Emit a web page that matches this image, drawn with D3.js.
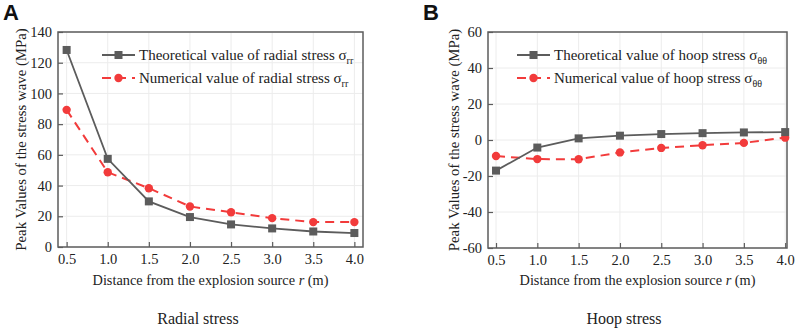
<!DOCTYPE html>
<html>
<head>
<meta charset="utf-8">
<script src="https://cdn.jsdelivr.net/npm/d3@7"></script>
<style>
  body { margin: 0; background: #fff; }
  text { font-family: "Liberation Serif", "Times New Roman", serif; fill: #222; }
  text.letter { font-family: "Liberation Sans", Arial, sans-serif; font-weight: bold; fill: #111; }
</style>
</head>
<body>
<svg id="chart" width="796" height="329"></svg>
<script>
// distances from the explosion source (m)
let distances = [0.5, 1.0, 1.5, 2.0, 2.5, 3.0, 3.5, 4.0];

// panel A - radial stress (MPa)
let radialTheory = [128.3, 57.4, 29.7, 19.5, 14.7, 12.1, 10.1, 9.1];
let radialNumeric = [89.3, 48.7, 38.3, 26.4, 22.6, 18.8, 16.2, 16.2];
let radialTicks = [0, 20, 40, 60, 80, 100, 120, 140];

// panel B - hoop stress (MPa)
let hoopTheory = [-17.0, -4.2, 0.9, 2.4, 3.3, 3.8, 4.2, 4.4];
let hoopNumeric = [-8.9, -10.6, -10.7, -6.9, -4.4, -2.9, -1.6, 1.3];
let hoopTicks = [-60, -40, -20, 0, 20, 40, 60];

let xTicks = [0.5, 1.0, 1.5, 2.0, 2.5, 3.0, 3.5, 4.0];

let grey = "#5c5c5c",
    red = "#f23b3b";

let svg = d3.select("#chart");

function draw_panel(p) {
  let x = d3.scaleLinear().domain(p.xDomain).range([p.left, p.right]),
      y = d3.scaleLinear().domain(p.yDomain).range([p.bottom, p.top]);

  let g = svg.append("g");

  // grid
  g.append("g").selectAll("line.gx")
    .data(xTicks).enter().append("line")
    .attr("x1", d => x(d)).attr("x2", d => x(d))
    .attr("y1", p.top).attr("y2", p.bottom)
    .attr("stroke", "#ececec").attr("stroke-width", 1);
  g.append("g").selectAll("line.gy")
    .data(p.yTicks).enter().append("line")
    .attr("y1", d => y(d)).attr("y2", d => y(d))
    .attr("x1", p.left).attr("x2", p.right)
    .attr("stroke", "#ececec").attr("stroke-width", 1);

  // axes with inward ticks
  let xAxis = d3.axisBottom(x).tickValues(xTicks).tickFormat(d3.format(".1f"))
        .tickSizeInner(-5).tickSizeOuter(0).tickPadding(7),
      yAxis = d3.axisLeft(y).tickValues(p.yTicks).tickFormat(d => d < 0 ? "-" + Math.abs(d) : d)
        .tickSizeInner(-5).tickSizeOuter(0).tickPadding(6);

  let ax = g.append("g").attr("transform", `translate(0,${p.bottom})`).call(xAxis);
  let ay = g.append("g").attr("transform", `translate(${p.left},0)`).call(yAxis);
  [ax, ay].forEach(a => {
    a.attr("font-family", null).attr("font-size", null);
    a.select(".domain").remove();
    a.selectAll("line").attr("stroke", grey).attr("stroke-width", 1.2);
    a.selectAll("text").style("font-size", "14.5px").attr("fill", "#222");
  });

  // frame
  g.append("rect")
    .attr("x", p.left).attr("y", p.top)
    .attr("width", p.right - p.left).attr("height", p.bottom - p.top)
    .attr("fill", "none").attr("stroke", grey).attr("stroke-width", 1.5);

  let line = d3.line().x((d, i) => x(distances[i])).y(d => y(d));

  // numerical (red dashed, circles)
  g.append("path").datum(p.numeric)
    .attr("d", line).attr("fill", "none")
    .attr("stroke", red).attr("stroke-width", 2).attr("stroke-dasharray", "9,6");
  g.selectAll("circle.num").data(p.numeric).enter().append("circle")
    .attr("cx", (d, i) => x(distances[i])).attr("cy", d => y(d))
    .attr("r", 4.2).attr("fill", red);

  // theoretical (grey solid, squares)
  g.append("path").datum(p.theory)
    .attr("d", line).attr("fill", "none")
    .attr("stroke", grey).attr("stroke-width", 1.8);
  g.selectAll("rect.th").data(p.theory).enter().append("rect")
    .attr("x", (d, i) => x(distances[i]) - 4).attr("y", d => y(d) - 4)
    .attr("width", 8).attr("height", 8).attr("fill", grey);

  // legend
  let lx = p.legendX;
  let items = [
    {label: p.theoryLabel, color: grey, dash: null, shape: "square", y: 55},
    {label: p.numericLabel, color: red, dash: "9,6", shape: "circle", y: 78}
  ];
  items.forEach(it => {
    g.append("line")
      .attr("x1", lx).attr("x2", lx + 33).attr("y1", it.y).attr("y2", it.y)
      .attr("stroke", it.color).attr("stroke-width", it.shape == "square" ? 1.8 : 2)
      .attr("stroke-dasharray", it.dash);
    if (it.shape == "square")
      g.append("rect").attr("x", lx + 16.5 - 4).attr("y", it.y - 4)
        .attr("width", 8).attr("height", 8).attr("fill", it.color);
    else
      g.append("circle").attr("cx", lx + 16.5).attr("cy", it.y).attr("r", 4.2).attr("fill", it.color);
    let t = g.append("text").attr("x", lx + 37).attr("y", it.y + 5).style("font-size", "15px");
    t.append("tspan").text(it.label + " \u03c3");
    t.append("tspan").attr("dy", 4).style("font-size", "10px").text(p.sub);
  });

  // axis labels
  let xl = g.append("text")
    .attr("x", (p.left + p.right) / 2).attr("y", 285)
    .attr("text-anchor", "middle").style("font-size", "14.3px");
  xl.append("tspan").text("Distance from the explosion source ");
  xl.append("tspan").style("font-style", "italic").text("r");
  xl.append("tspan").text(" (m)");

  g.append("text")
    .attr("transform", `translate(${p.yLabelX},${(p.top + p.bottom) / 2}) rotate(-90)`)
    .attr("text-anchor", "middle").style("font-size", "14.8px")
    .text("Peak Values of the stress wave (MPa)");

  // panel title and letter
  g.append("text")
    .attr("x", p.titleX).attr("y", 324)
    .attr("text-anchor", "middle").style("font-size", "16px")
    .text(p.title);
  g.append("text")
    .attr("class", "letter")
    .attr("x", p.letterX).attr("y", 20)
    .style("font-size", "22px")
    .text(p.letter);
}

draw_panel({
  letter: "A", letterX: 3,
  left: 58, right: 363, top: 32, bottom: 247,
  xDomain: [0.395, 4.105], yDomain: [0, 140], yTicks: radialTicks,
  theory: radialTheory, numeric: radialNumeric,
  theoryLabel: "Theoretical value of radial stress",
  numericLabel: "Numerical value of radial stress",
  sub: "rr", legendX: 102, yLabelX: 26, titleX: 198, title: "Radial stress"
});

draw_panel({
  letter: "B", letterX: 423,
  left: 488, right: 787, top: 32, bottom: 248,
  xDomain: [0.403, 4.022], yDomain: [-60, 60], yTicks: hoopTicks,
  theory: hoopTheory, numeric: hoopNumeric,
  theoryLabel: "Theoretical value of hoop stress",
  numericLabel: "Numerical value of hoop stress",
  sub: "\u03b8\u03b8", legendX: 517, yLabelX: 459, titleX: 624, title: "Hoop stress"
});
</script>
</body>
</html>
